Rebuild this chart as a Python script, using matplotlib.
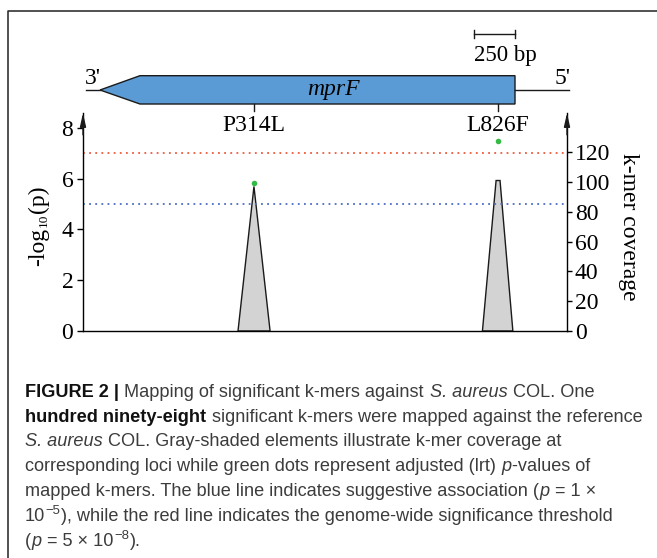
import matplotlib
matplotlib.use("Agg")
import matplotlib.pyplot as plt
from matplotlib.patches import Polygon

plt.rcParams['font.family'] = ['Liberation Serif', 'DejaVu Serif']

# gene model (bp, mprF drawn 3' -> 5', left to right)
gene_len = 2523
arrow_len = 243
scale_bp = 250
mut_labels = ["P314L", "L826F"]
mut_pos = [936, 2419]

# green dots: adjusted p-values of mapped k-mers
pval_pos = [936, 2419]
neglog_p = [5.84, 7.49]

# gray elements: k-mer coverage
cov1_x = [839, 936, 1034]
cov1_y = [0, 97, 0]
cov2_x = [2325, 2408, 2432, 2510]
cov2_y = [0, 101, 101, 0]

suggestive = 5.0
significant = 7.0

left_ticks = [0, 2, 4, 6, 8]
right_ticks = [0, 20, 40, 60, 80, 100, 120]

W, H = 657, 558
fig = plt.figure(figsize=(W / 100, H / 100), dpi=100)
renderer = fig.canvas.get_renderer()


def px_rect(l, t, r, b):
    return [l / W, 1 - b / H, (r - l) / W, (b - t) / H]


bp_per_px = gene_len / 415.0
xmin = -17 * bp_per_px
xmax = xmin + 484 * bp_per_px

# full-figure canvas for frame and caption
cv = fig.add_axes([0, 0, 1, 1])
cv.set_xlim(0, W)
cv.set_ylim(H, 0)
cv.axis('off')
cv.plot([7.5, 7.5, W + 5], [H + 5, 11, 11], color='#222222', lw=1.1, clip_on=False)

# gene diagram axes (x in bp, y in pixels)
ga = fig.add_axes(px_rect(83, 0, 567, H))
ga.set_xlim(xmin, xmax)
ga.set_ylim(H, 0)
ga.axis('off')
gy, gtop, gbot = 90, 75.7, 104
ga.add_patch(Polygon([(0, gy), (arrow_len, gtop), (gene_len, gtop),
                      (gene_len, gbot), (arrow_len, gbot)],
                     closed=True, facecolor='#5b9bd5', edgecolor='#1a1a1a', lw=1.0))
end_3 = xmin + 2.5 * bp_per_px
end_5 = gene_len + 53.5 * bp_per_px
ga.plot([end_3, 0], [gy, gy], color='#1a1a1a', lw=1.0, clip_on=False)
ga.plot([gene_len, end_5], [gy, gy], color='#1a1a1a', lw=1.0, clip_on=False)
ga.text(end_3 - 1 * bp_per_px, gy - 1, "3'", ha='left', va='bottom', fontsize=17)
ga.text(end_5 + 2 * bp_per_px, gy - 1, "5'", ha='right', va='bottom', fontsize=17,
        clip_on=False)
ga.text(1416, gy, "mprF", ha='center', va='center', fontsize=17, style='italic')
for lab, pos in zip(mut_labels, mut_pos):
    ga.plot([pos, pos], [gbot, gbot + 7], color='#1a1a1a', lw=1.0)
    ga.text(pos, 125.5, lab, ha='center', va='center', fontsize=17)

# scale bar
sb0, sb1 = gene_len - scale_bp, gene_len
ga.plot([sb0, sb1], [34, 34], color='#1a1a1a', lw=1.0)
ga.plot([sb0, sb0], [30, 38], color='#1a1a1a', lw=1.0)
ga.plot([sb1, sb1], [30, 38], color='#1a1a1a', lw=1.0)
ga.text(sb0, 60.5, "250 bp", ha='left', va='baseline', fontsize=16.5)

# main plot
ax = fig.add_axes(px_rect(83, 113, 567, 331))
ax2 = ax.twinx()
ax.set_zorder(ax2.get_zorder() + 1)
ax.patch.set_visible(False)

ax2.fill(cov1_x, cov1_y, facecolor='#d3d3d3', edgecolor='#1a1a1a', lw=1.0)
ax2.fill(cov2_x, cov2_y, facecolor='#d3d3d3', edgecolor='#1a1a1a', lw=1.0)

ax.axhline(significant, color='#ee5a3a', lw=1.3, ls=(0, (1, 2.4)))
ax.axhline(suggestive, color='#4a6cc4', lw=1.3, ls=(0, (1, 2.4)))
ax.scatter(pval_pos, neglog_p, s=16, color='#33bb44', zorder=5, linewidths=0)

ax.set_xlim(xmin, xmax)
ax.set_ylim(0, 218 / 25.4)
ax2.set_ylim(0, 218 / 1.49)
ax.set_yticks(left_ticks)
ax2.set_yticks(right_ticks)
ax.set_xticks([])

for a in (ax, ax2):
    a.spines['top'].set_visible(False)
ax.spines['right'].set_visible(False)
ax2.spines['left'].set_visible(False)
ax2.spines['bottom'].set_visible(False)
for sp in ('left', 'bottom'):
    ax.spines[sp].set_linewidth(1.0)
ax2.spines['right'].set_linewidth(1.0)

ax.tick_params(axis='y', direction='out', length=4, width=1, pad=3, labelsize=17)
ax2.tick_params(axis='y', direction='out', length=3.5, width=1, pad=2, labelsize=17)

arrow = dict(arrowstyle='-|>,head_length=0.8,head_width=0.18', color='#1a1a1a',
             lw=1.0, shrinkA=0, shrinkB=0, mutation_scale=10)
ax.annotate('', xy=(0, 1.0), xytext=(0, 0.9), xycoords='axes fraction', arrowprops=arrow)
ax2.annotate('', xy=(1, 1.0), xytext=(1, 0.9), xycoords='axes fraction', arrowprops=arrow)

# left axis label "-log10(p)" with a small subscript, built piece by piece
pieces = [("-log", 17, 0.0), ("10", 9.5, 2.5), ("(p)", 17, 0.0)]
base_x = 44.5
lengths = []
for s, fs, off in pieces:
    t = cv.text(0, 0, s, fontsize=fs, rotation=90)
    lengths.append(t.get_window_extent(renderer).height)
    t.remove()
pos_y = 226 + (sum(lengths) + 2) / 2
for s, fs, off in pieces:
    t = cv.text(base_x + off, pos_y, s, fontsize=fs, rotation=90,
                rotation_mode='anchor', ha='left', va='baseline')
    bb = t.get_window_extent(renderer)
    pos_y = H - bb.y1 - 1

cv.text(629, 227, 'k-mer coverage', rotation=270, ha='center', va='center', fontsize=17)

# caption
cap_font = ['Liberation Sans', 'DejaVu Sans']
cap_size = 13.1
lines = [
    [("FIGURE 2 | ", 'b'), ("Mapping of significant k-mers against ", 'n'),
     ("S. aureus", 'i'), (" COL. One", 'n')],
    [("hundred ninety-eight", 'b'), (" significant k-mers were mapped against the reference", 'n')],
    [("S. aureus", 'i'), (" COL. Gray-shaded elements illustrate k-mer coverage at", 'n')],
    [("corresponding loci while green dots represent adjusted (lrt) ", 'n'), ("p", 'i'),
     ("-values of", 'n')],
    [("mapped k-mers. The blue line indicates suggestive association (", 'n'), ("p", 'i'),
     (" = 1 \u00d7", 'n')],
    [("10", 'n'), ("\u22125", 's'),
     ("), while the red line indicates the genome-wide significance threshold", 'n')],
    [("(", 'n'), ("p", 'i'), (" = 5 \u00d7 10", 'n'), ("\u22128", 's'), (").", 'n')],
]


def style_kw(st):
    kw = dict(family=cap_font, fontsize=cap_size, color='#3c3c3c')
    if st == 'b':
        kw.update(weight='bold', color='#111111')
    elif st == 'i':
        kw.update(style='italic')
    elif st == 's':
        kw.update(fontsize=cap_size * 0.72)
    return kw


def width_of(s, kw):
    t = cv.text(0, 0, s, **kw)
    w = t.get_window_extent(renderer).width
    t.remove()
    return w


space_w = {}
for st in ('n', 'b', 'i', 's'):
    kw = style_kw(st)
    space_w[st] = width_of('a a', kw) - width_of('aa', kw)

y0 = 397
step = 24.75
for i, segs in enumerate(lines):
    x = 25
    y = y0 + i * step
    for s, st in segs:
        kw = style_kw(st)
        lead = len(s) - len(s.lstrip(' '))
        trail = len(s) - len(s.rstrip(' '))
        x += lead * space_w[st]
        yy = y - 6.5 if st == 's' else y
        t = cv.text(x, yy, s.strip(' '), ha='left', va='baseline', **kw)
        bb = t.get_window_extent(renderer)
        x = bb.x1 + trail * space_w[st] + 0.5

fig.savefig('out.png', dpi=100)
